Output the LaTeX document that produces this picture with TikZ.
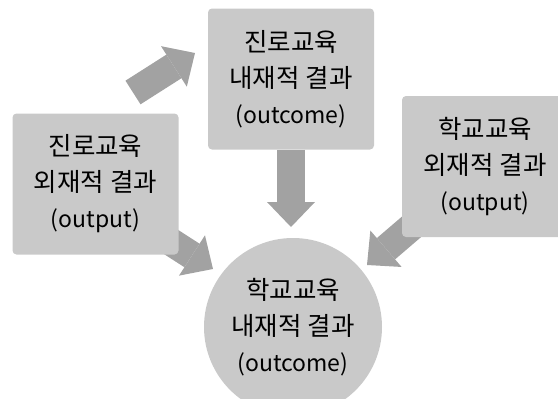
\documentclass[tikz,border=0pt]{standalone}
\usepackage{fontspec}
\setmainfont{Noto Sans CJK KR}
\usetikzlibrary{arrows.meta,backgrounds}
\definecolor{boxgray}{HTML}{C9C9C9}
\definecolor{arrowgray}{HTML}{A2A2A2}
\newcommand{\kr}[1]{{\fontsize{25.5}{36}\selectfont #1}}
\begin{document}
\begin{tikzpicture}[x=1pt,y=-1pt,
  box/.style={fill=boxgray, rounded corners=4pt, minimum width=166pt, minimum height=141pt,
    inner sep=0pt, align=center, font=\fontsize{23}{36}\selectfont, text=black},
  circ/.style={circle, fill=boxgray, minimum size=178pt, inner sep=0pt, align=center,
    font=\fontsize{23}{36}\selectfont, text=black},
  blockarrow/.style={draw=arrowgray, line width=28pt, line cap=butt,
    -{Triangle[length=25pt,width=48pt,line width=0pt]}}]
\useasboundingbox (0,0) rectangle (558,399);
\node[box] (top) at (291,79) {\kr{진로교육}\\\kr{내재적 결과}\\(outcome)};
\node[box] (left) at (95.5,184) {\kr{진로교육}\\\kr{외재적 결과}\\(output)};
\node[box] (right) at (485,166.5) {\kr{학교교육}\\\kr{외재적 결과}\\(output)};
\node[circ] (school) at (293,327) {\kr{학교교육}\\\kr{내재적 결과}\\(outcome)};
\coordinate (a1s) at (133,92.5);
\coordinate (a1e) at (195,53);
\coordinate (a2e) at (291,227);
\coordinate (a3s) at (140,222);
\coordinate (a3e) at (213,269);
\coordinate (a4s) at (419.5,220);
\coordinate (a4e) at (367,265);
\begin{scope}[on background layer]
\draw[blockarrow] (a1s) -- (a1e);
\draw[blockarrow] (top.south) -- (a2e);
\draw[blockarrow] (a3s) -- (a3e);
\draw[blockarrow] (a4s) -- (a4e);
\end{scope}
\end{tikzpicture}
\end{document}
